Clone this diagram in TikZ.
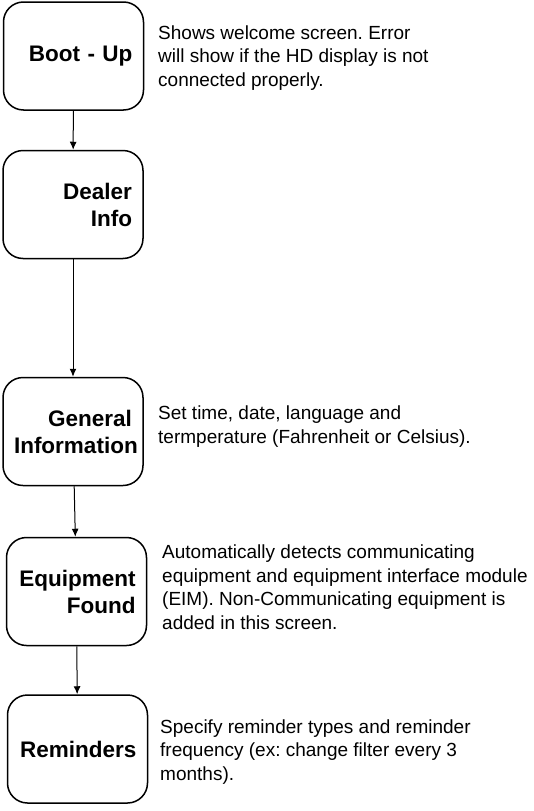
\documentclass[tikz,border=0pt]{standalone}
\usepackage{fontspec}
\setmainfont{Liberation Sans}
\usetikzlibrary{arrows.meta}
\frenchspacing

\begin{document}
\begin{tikzpicture}[x=1pt, y=-1pt,
  stepbox/.style={draw, line width=1.5pt, rounded corners=20pt, text width=118pt, align=right, inner xsep=11pt, minimum height=108pt, font=\bfseries\fontsize{22.5}{27}\selectfont},
  note/.style={anchor=base west, align=left, inner sep=0pt, font=\fontsize{19}{23.5}\selectfont},
  arr/.style={-{Latex[length=8pt,width=7pt]}, line width=1pt}]
\useasboundingbox (0,0) rectangle (534,811);

\node[stepbox] (boot) at (73.5,56) {Boot - Up};
\node[stepbox] (dealer) at (73,204.5) {Dealer\\Info};
\node[stepbox] (general) at (73,431.5) {General\\Information};
\node[stepbox] (equip) at (76.5,591.5) {Equipment\\Found};
\node[stepbox] (remind) at (77.5,749) {Reminders};

\node[note] (bootnote) at (158,86) {Shows welcome screen. Error\\will show if the HD display is not\\connected properly.};
\node[note] (generalnote) at (158,443) {Set time, date, language and\\termperature (Fahrenheit or Celsius).};
\node[note] (equipnote) at (162,629) {Automatically detects communicating\\equipment and equipment interface module\\(EIM). Non-Communicating equipment is\\added in this screen.};
\node[note] (remindnote) at (160,780) {Specify reminder types and reminder\\frequency (ex: change filter every 3\\months).};

\draw[arr] (boot) -- (dealer);
\draw[arr] (dealer) -- (general);
\draw[arr] (general) -- (equip);
\draw[arr] (equip) -- (remind);
\end{tikzpicture}
\end{document}
